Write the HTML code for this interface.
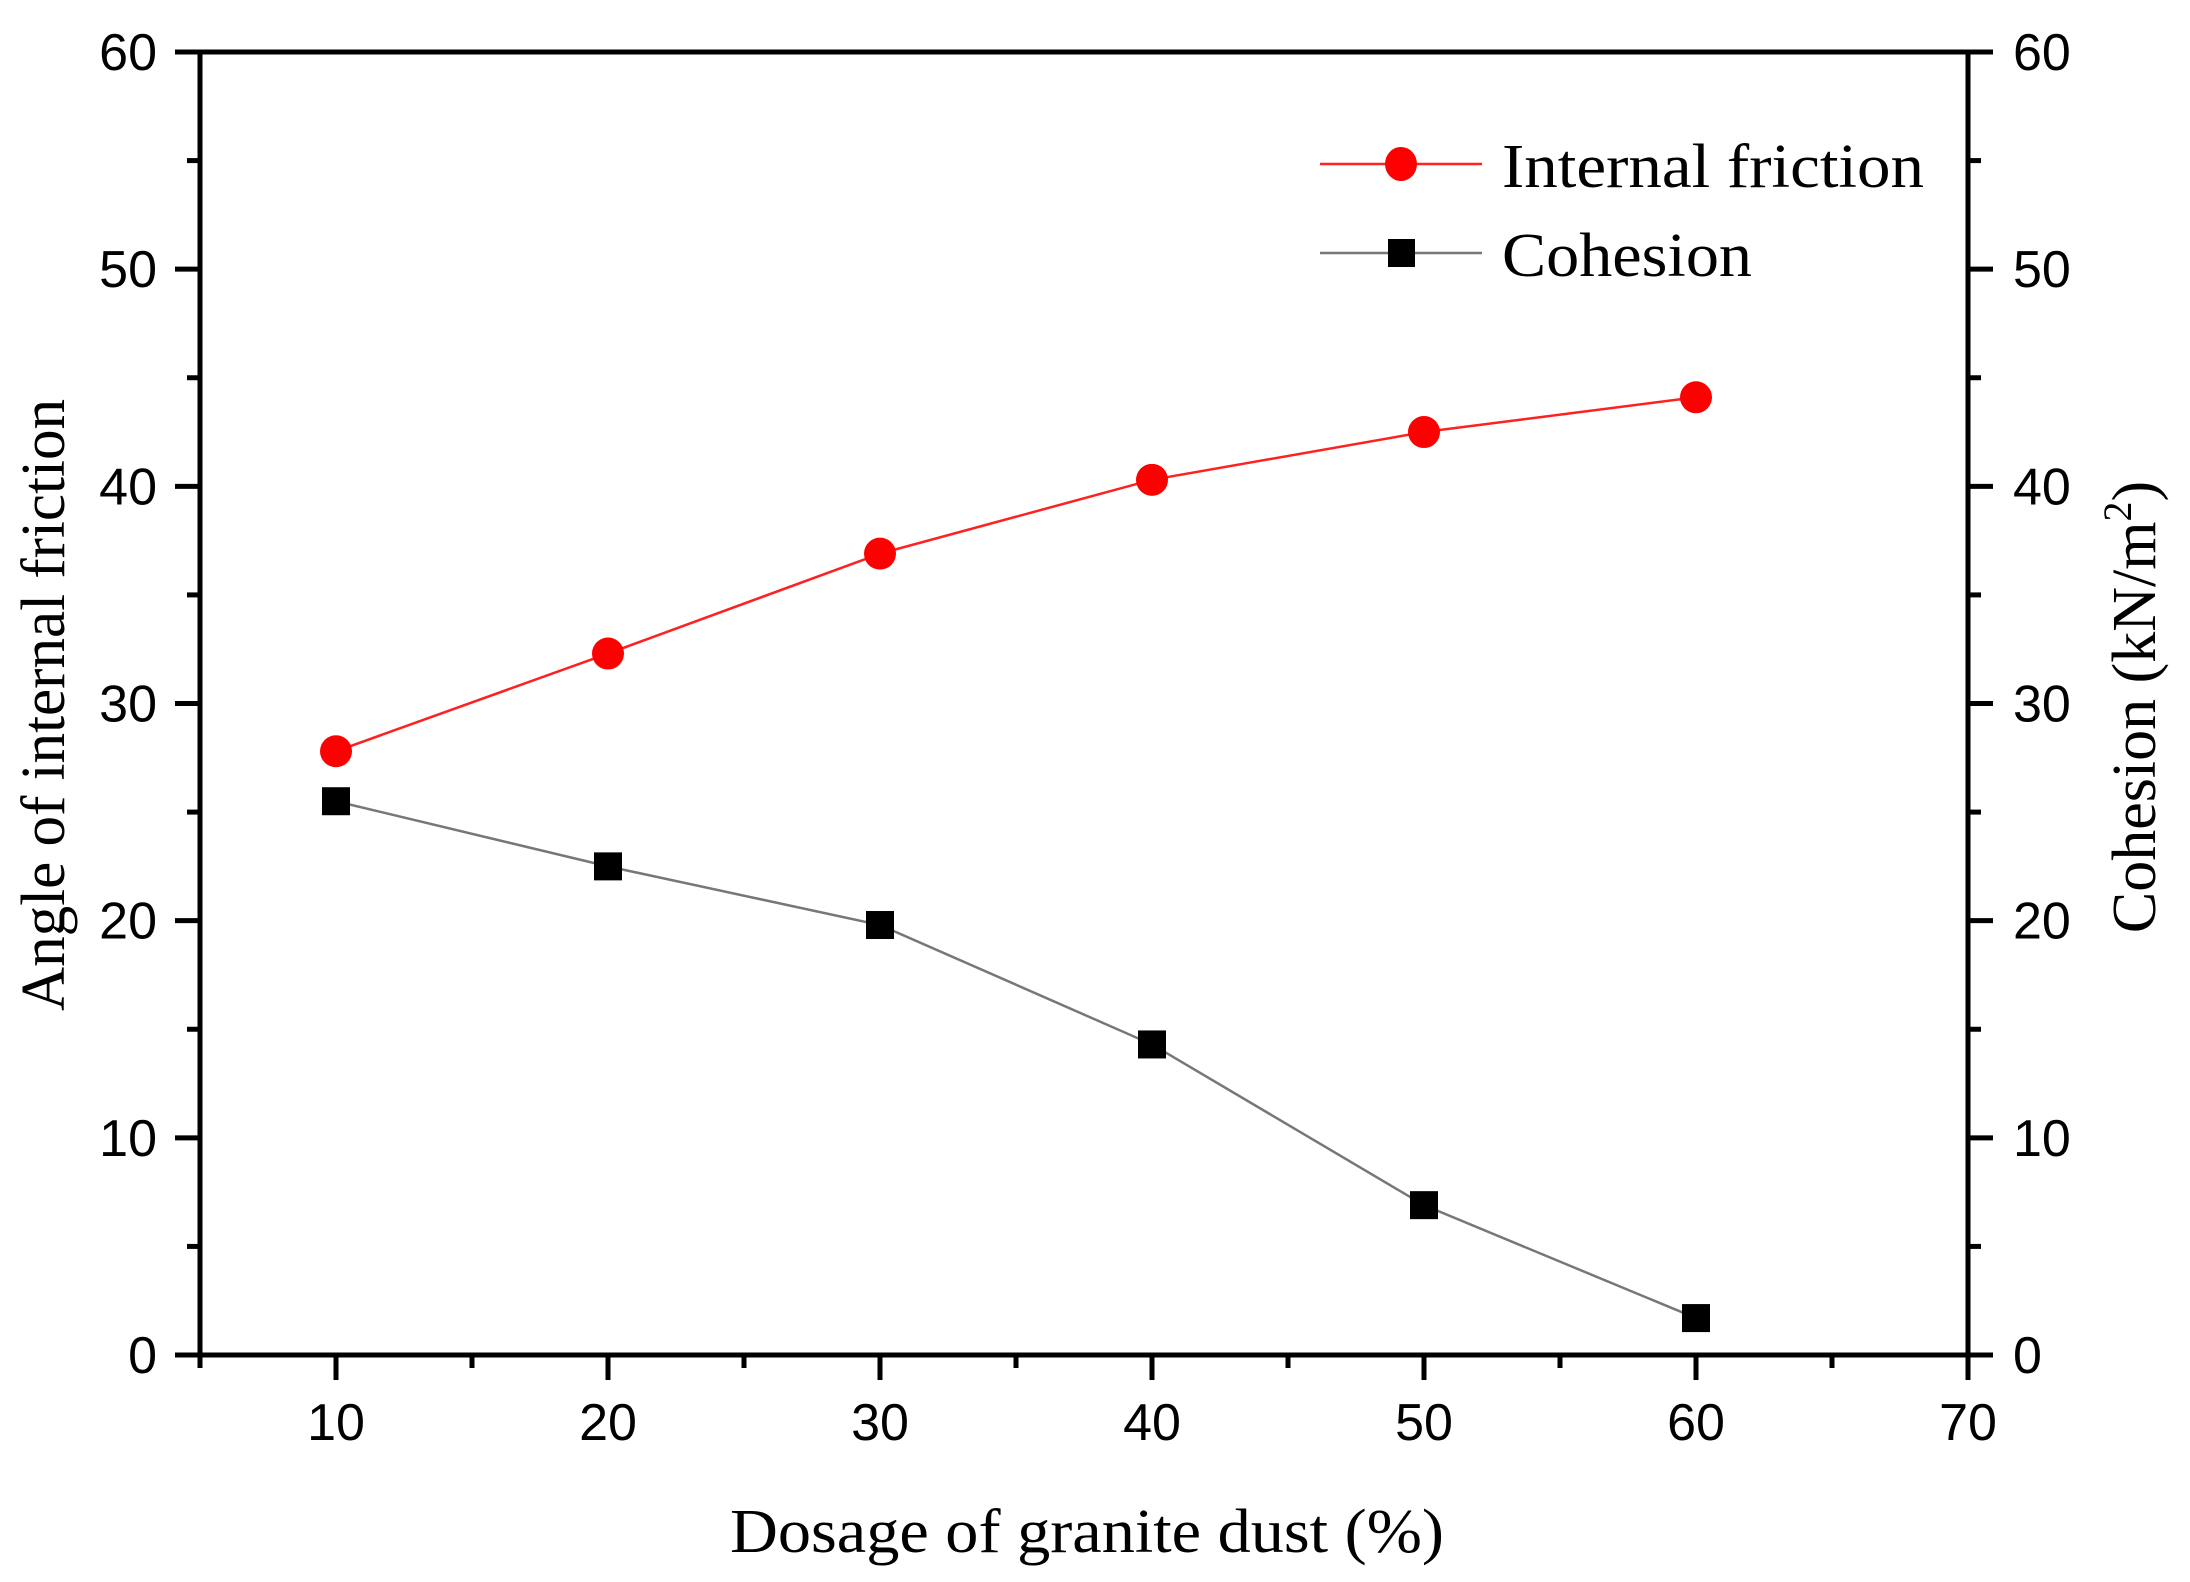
<!DOCTYPE html>
<html><head><meta charset="utf-8"><style>
html,body{margin:0;padding:0;background:#fff;}
svg{display:block;}
.tick{font-family:"Liberation Sans",sans-serif;font-size:52px;fill:#000;}
.ttl{font-family:"Liberation Serif",serif;font-size:62px;fill:#000;}
</style></head><body>
<svg id="chart" width="2190" height="1582" viewBox="0 0 2190 1582" xmlns="http://www.w3.org/2000/svg">
<g id="axes"></g>
<g id="series"></g>
<g id="legend">
  <line x1="1320" y1="164" x2="1482" y2="164" stroke="#ff2020" stroke-width="2.5"/>
  <ellipse cx="1401" cy="164" rx="16" ry="17" fill="#ff0000"/>
  <text class="ttl" x="1502" y="187" font-size="68" textLength="422" lengthAdjust="spacingAndGlyphs">Internal friction</text>
  <line x1="1320" y1="253" x2="1482" y2="253" stroke="#777" stroke-width="2.5"/>
  <rect x="1388" y="239" width="27" height="28" fill="#000"/>
  <text class="ttl" x="1502" y="276" font-size="68" textLength="250" lengthAdjust="spacingAndGlyphs">Cohesion</text>
</g>
<text class="ttl" x="1087" y="1552" text-anchor="middle" textLength="714" lengthAdjust="spacingAndGlyphs">Dosage of granite dust (%)</text>
<text class="ttl" transform="translate(64,705) rotate(-90)" text-anchor="middle" textLength="612" lengthAdjust="spacingAndGlyphs">Angle of internal friction</text>
<text class="ttl" transform="translate(2155,707) rotate(-90)" text-anchor="middle">Cohesion (kN/m<tspan dy="-24" font-size="40">2</tspan><tspan dy="24">)</tspan></text>
</svg>
<script>
const xCats = [10, 20, 30, 40, 50, 60];
const friction = [27.8, 32.3, 36.9, 40.3, 42.5, 44.1];
const cohesion = [25.5, 22.5, 19.8, 14.3, 6.9, 1.7];
const xTicks = [10, 20, 30, 40, 50, 60, 70];
const yTicks = [0, 10, 20, 30, 40, 50, 60];

const L=200,R=1968,T=52,B=1355;
const xs=v=>L+(v-5)/65*(R-L);
const ys=v=>B-v/60*(B-T);
const NS="http://www.w3.org/2000/svg";
const axes=document.getElementById('axes'), ser=document.getElementById('series');
function mk(tag,attrs,parent){const e=document.createElementNS(NS,tag);for(const k in attrs)e.setAttribute(k,attrs[k]);parent.appendChild(e);return e;}

const frame=mk('rect',{x:L,y:T,width:R-L,height:B-T,fill:'none',stroke:'#000','stroke-width':5},axes);



for(let v=5;v<=70;v+=5){
  const major=v%10===0;
  const t=mk('line',{x1:xs(v),x2:xs(v),y1:B,y2:B+(major?25:13),stroke:'#000','stroke-width':5},axes);
  
  
}
xTicks.forEach(v=>{
  const t=mk('text',{x:xs(v),y:1440,'text-anchor':'middle',class:'tick'},axes);t.textContent=v;
  
  
});
for(let v=0;v<=60;v+=5){
  const major=v%10===0, len=major?25:13;
  const a=mk('line',{x1:L-len,x2:L,y1:ys(v),y2:ys(v),stroke:'#000','stroke-width':5},axes);
  
  
  const b=mk('line',{x1:R,x2:R+len,y1:ys(v),y2:ys(v),stroke:'#000','stroke-width':5},axes);
  
  
}
yTicks.forEach(v=>{
  const a=mk('text',{x:157,y:ys(v)+18,'text-anchor':'end',class:'tick'},axes);a.textContent=v;
  
  
  const b=mk('text',{x:2013,y:ys(v)+18,'text-anchor':'start',class:'tick'},axes);b.textContent=v;
  
  
});

const fl=mk('polyline',{points:xCats.map((x,i)=>xs(x)+','+ys(friction[i])).join(' '),fill:'none',stroke:'#ff2020','stroke-width':2.5},ser);


const cl=mk('polyline',{points:xCats.map((x,i)=>xs(x)+','+ys(cohesion[i])).join(' '),fill:'none',stroke:'#777','stroke-width':2.5},ser);


xCats.forEach((x,i)=>{
  const c=mk('ellipse',{cx:xs(x),cy:ys(friction[i]),rx:16,ry:16,fill:'#ff0000'},ser);
  
  
  const s=mk('rect',{x:xs(x)-14,y:ys(cohesion[i])-14,width:28,height:28,fill:'#000'},ser);
  
  
});
</script>
</body></html>
